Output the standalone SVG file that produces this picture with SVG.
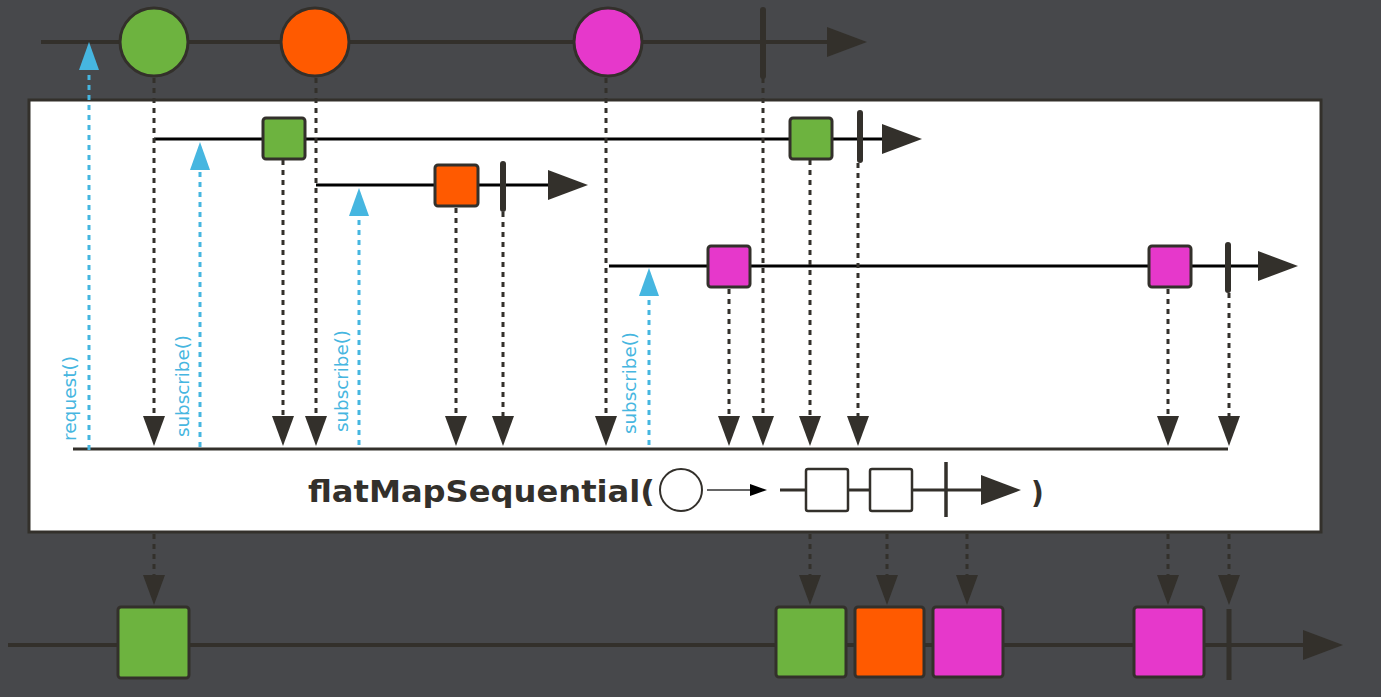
<svg xmlns="http://www.w3.org/2000/svg" width="1381" height="697" viewBox="0 0 1381 697">
<defs>
<style>
.tl{stroke:#33302b;stroke-width:4;fill:none}
.il{stroke:#000;stroke-width:3;fill:none}
.ah{fill:#33302b}
.bar{stroke:#33302b;stroke-width:6;stroke-linecap:round}
.dd{stroke:#33302b;stroke-width:3;stroke-dasharray:5 5;fill:none}
.bd{stroke:#46b6e0;stroke-width:3;stroke-dasharray:5 5;fill:none}
.bh{fill:#46b6e0}
.nd{stroke:#33302b;stroke-width:3}
.g{fill:#6db33f}.o{fill:#ff5a00}.m{fill:#e638cb}
.lbl{font-family:"DejaVu Sans Condensed","DejaVu Sans","Liberation Sans",sans-serif;font-size:18px;fill:#46b6e0}
.op{font-family:"DejaVu Sans Condensed","DejaVu Sans","Liberation Sans",sans-serif;font-weight:bold;font-size:31px;fill:#33302b}
</style>
<path id="down" d="M-11,-30 L11,-30 L0,0 Z"/>
<path id="up" d="M-10,28 L10,28 L0,0 Z"/>
</defs>
<rect x="0" y="0" width="1381" height="697" fill="#47484b"/>
<rect x="29" y="100" width="1292" height="432" fill="#fff" stroke="#33302b" stroke-width="3"/>

<g id="connectors">
<line class="tl" x1="41" y1="42" x2="835" y2="42"/>
<path class="ah" d="M827,27 L867,42 L827,57 Z"/>
<line class="il" x1="154" y1="139" x2="888" y2="139"/>
<path class="ah" d="M882,124 L922,139 L882,154 Z"/>
<line class="il" x1="316" y1="185" x2="552" y2="185"/>
<path class="ah" d="M548,170 L588,185 L548,200 Z"/>
<line class="il" x1="609" y1="266" x2="1262" y2="266"/>
<path class="ah" d="M1258,251 L1298,266 L1258,281 Z"/>
<line x1="73" y1="449" x2="1228" y2="449" stroke="#33302b" stroke-width="3"/>
<line class="tl" x1="8" y1="645" x2="1308" y2="645"/>
<path class="ah" d="M1303,630 L1343,645 L1303,660 Z"/>

<line class="dd" x1="154" y1="78" x2="154" y2="420"/><use href="#down" class="ah" x="154" y="446"/>
<line class="dd" x1="283" y1="160" x2="283" y2="420"/><use href="#down" class="ah" x="283" y="446"/>
<line class="dd" x1="316" y1="78" x2="316" y2="420"/><use href="#down" class="ah" x="316" y="446"/>
<line class="dd" x1="456" y1="208" x2="456" y2="420"/><use href="#down" class="ah" x="456" y="446"/>
<line class="dd" x1="503" y1="212" x2="503" y2="420"/><use href="#down" class="ah" x="503" y="446"/>
<line class="dd" x1="606" y1="78" x2="606" y2="420"/><use href="#down" class="ah" x="606" y="446"/>
<line class="dd" x1="729" y1="289" x2="729" y2="420"/><use href="#down" class="ah" x="729" y="446"/>
<line class="dd" x1="763" y1="78" x2="763" y2="420"/><use href="#down" class="ah" x="763" y="446"/>
<line class="dd" x1="810" y1="160" x2="810" y2="420"/><use href="#down" class="ah" x="810" y="446"/>
<line class="dd" x1="858" y1="163" x2="858" y2="420"/><use href="#down" class="ah" x="858" y="446"/>
<line class="dd" x1="1168" y1="289" x2="1168" y2="420"/><use href="#down" class="ah" x="1168" y="446"/>
<line class="dd" x1="1229" y1="293" x2="1229" y2="420"/><use href="#down" class="ah" x="1229" y="446"/>

<line class="dd" x1="154" y1="534" x2="154" y2="580"/><use href="#down" class="ah" x="154" y="605"/>
<line class="dd" x1="810" y1="534" x2="810" y2="580"/><use href="#down" class="ah" x="810" y="605"/>
<line class="dd" x1="887" y1="534" x2="887" y2="580"/><use href="#down" class="ah" x="887" y="605"/>
<line class="dd" x1="967" y1="534" x2="967" y2="580"/><use href="#down" class="ah" x="967" y="605"/>
<line class="dd" x1="1168" y1="534" x2="1168" y2="580"/><use href="#down" class="ah" x="1168" y="605"/>
<line class="dd" x1="1229" y1="534" x2="1229" y2="580"/><use href="#down" class="ah" x="1229" y="605"/>

<line class="bd" x1="89" y1="450" x2="89" y2="72"/><use href="#up" class="bh" x="89" y="42"/>
<line class="bd" x1="200" y1="447" x2="200" y2="172"/><use href="#up" class="bh" x="200" y="142"/>
<line class="bd" x1="359" y1="445" x2="359" y2="217"/><use href="#up" class="bh" x="359" y="188"/>
<line class="bd" x1="649" y1="445" x2="649" y2="298"/><use href="#up" class="bh" x="649" y="268"/>
</g>

<g id="labels">
<text class="lbl" transform="translate(76,441) rotate(-90)" textLength="85" lengthAdjust="spacingAndGlyphs">request()</text>
<text class="lbl" transform="translate(189,437) rotate(-90)" textLength="102" lengthAdjust="spacingAndGlyphs">subscribe()</text>
<text class="lbl" transform="translate(348,432) rotate(-90)" textLength="102" lengthAdjust="spacingAndGlyphs">subscribe()</text>
<text class="lbl" transform="translate(636,434) rotate(-90)" textLength="102" lengthAdjust="spacingAndGlyphs">subscribe()</text>
</g>

<g id="source">
<circle class="nd g" cx="154" cy="42" r="34"/>
<circle class="nd o" cx="315" cy="42" r="34"/>
<circle class="nd m" cx="608" cy="42" r="34"/>
<line class="bar" x1="763" y1="10" x2="763" y2="76"/>
</g>

<g id="inner1">
<rect class="nd g" x="263" y="118" width="42" height="41" rx="3"/>
<rect class="nd g" x="790" y="118" width="42" height="41" rx="3"/>
<line class="bar" x1="860" y1="113" x2="860" y2="160" stroke-width="5"/>
</g>
<g id="inner2">
<rect class="nd o" x="435" y="165" width="43" height="41" rx="3"/>
<line class="bar" x1="503" y1="164" x2="503" y2="209" stroke-width="5"/>
</g>
<g id="inner3">
<rect class="nd m" x="708" y="246" width="42" height="41" rx="3"/>
<rect class="nd m" x="1149" y="246" width="42" height="41" rx="3"/>
<line class="bar" x1="1228" y1="245" x2="1228" y2="290" stroke-width="5"/>
</g>

<g id="operator">
<text class="op" x="308" y="502" textLength="347" lengthAdjust="spacingAndGlyphs">flatMapSequential(</text>
<circle cx="681" cy="490" r="21" fill="#fff" stroke="#33302b" stroke-width="2"/>
<line x1="707" y1="490" x2="752" y2="490" stroke="#666" stroke-width="2"/>
<path d="M750,484 L767,490 L750,496 Z" fill="#000"/>
<line x1="780" y1="490" x2="985" y2="490" stroke="#33302b" stroke-width="3"/>
<rect x="806" y="469" width="42" height="42" rx="2" fill="#fff" stroke="#33302b" stroke-width="2.5"/>
<rect x="870" y="469" width="42" height="42" rx="2" fill="#fff" stroke="#33302b" stroke-width="2.5"/>
<line x1="946" y1="462" x2="946" y2="517" stroke="#33302b" stroke-width="3.5"/>
<path d="M981,475 L1021,490 L981,505 Z" fill="#33302b"/>
<text class="op" x="1031" y="503">)</text>
</g>

<g id="output">
<rect class="nd g" x="118" y="607" width="71" height="71" rx="3"/>
<rect class="nd g" x="776" y="607" width="70" height="70" rx="3"/>
<rect class="nd o" x="855" y="607" width="69" height="70" rx="3"/>
<rect class="nd m" x="933" y="607" width="70" height="70" rx="3"/>
<rect class="nd m" x="1134" y="607" width="70" height="70" rx="3"/>
<line x1="1229" y1="609" x2="1229" y2="680" stroke="#33302b" stroke-width="5"/>
</g>
</svg>
